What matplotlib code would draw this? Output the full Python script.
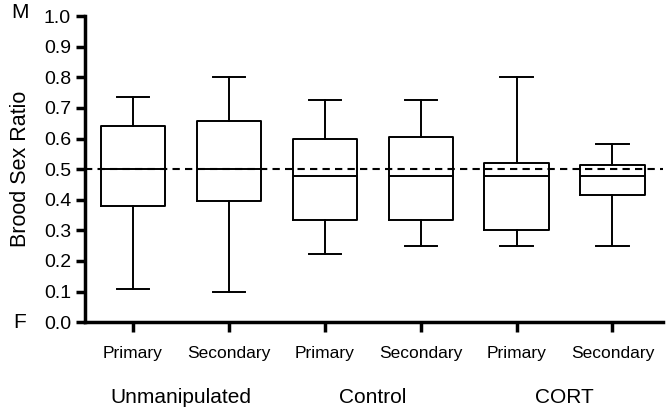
import matplotlib
matplotlib.use('Agg')
import matplotlib.pyplot as plt

# box statistics (brood sex ratio)
groups = ['Unmanipulated', 'Control', 'CORT']
labels = ['Primary', 'Secondary', 'Primary', 'Secondary', 'Primary', 'Secondary']
whislo = [0.108, 0.100, 0.222, 0.250, 0.250, 0.250]
q1 = [0.380, 0.395, 0.333, 0.333, 0.300, 0.417]
med = [0.500, 0.500, 0.477, 0.477, 0.477, 0.477]
q3 = [0.640, 0.657, 0.600, 0.605, 0.520, 0.513]
whishi = [0.737, 0.800, 0.727, 0.727, 0.800, 0.583]
ref_line = 0.5

plt.rcParams['font.family'] = ['Liberation Sans', 'DejaVu Sans']

fig = plt.figure(figsize=(6.72, 4.13), dpi=100)
ax = fig.add_axes([0.1265, 0.22, 0.8605, 0.741])

stats = []
for i in range(len(labels)):
    stats.append({'whislo': whislo[i], 'q1': q1[i], 'med': med[i],
                  'q3': q3[i], 'whishi': whishi[i], 'fliers': []})

pos = list(range(1, len(labels) + 1))
lw = 1.4
ax.bxp(stats, positions=pos, widths=0.67, showfliers=False,
       boxprops=dict(color='black', linewidth=lw),
       medianprops=dict(color='black', linewidth=lw),
       whiskerprops=dict(color='black', linewidth=lw),
       capprops=dict(color='black', linewidth=lw),
       capwidths=0.335)

ax.axhline(ref_line, color='black', linestyle=(0, (3.5, 2.5)), linewidth=1.5, zorder=5)

ax.set_ylim(0, 1.0)
ax.set_xlim(0.5, 6.53)
ax.set_yticks([i / 10 for i in range(11)])
ax.set_yticklabels(['%.1f' % (i / 10) for i in range(11)], fontsize=14)
ax.set_xticks(pos)
ax.set_xticklabels(labels, fontsize=12.5)
ax.tick_params(axis='x', length=7, width=2.5, pad=10)
ax.tick_params(axis='y', length=6.5, width=2.5, pad=3.5)

for s in ['top', 'right']:
    ax.spines[s].set_visible(False)
for s in ['left', 'bottom']:
    ax.spines[s].set_linewidth(2.5)

ax.set_ylabel('Brood Sex Ratio', fontsize=15.5, labelpad=9)

# group labels under each pair
for g, name in enumerate(groups):
    xc = (pos[2 * g] + pos[2 * g + 1]) / 2
    ax.text(xc, -0.245, name, ha='center', va='center', fontsize=15,
            transform=ax.get_xaxis_transform())

fig.text(20 / 672, 1 - 12 / 413, 'M', ha='center', va='center', fontsize=15)
fig.text(20 / 672, 1 - 322 / 413, 'F', ha='center', va='center', fontsize=15)

fig.savefig('out.png', dpi=100)
